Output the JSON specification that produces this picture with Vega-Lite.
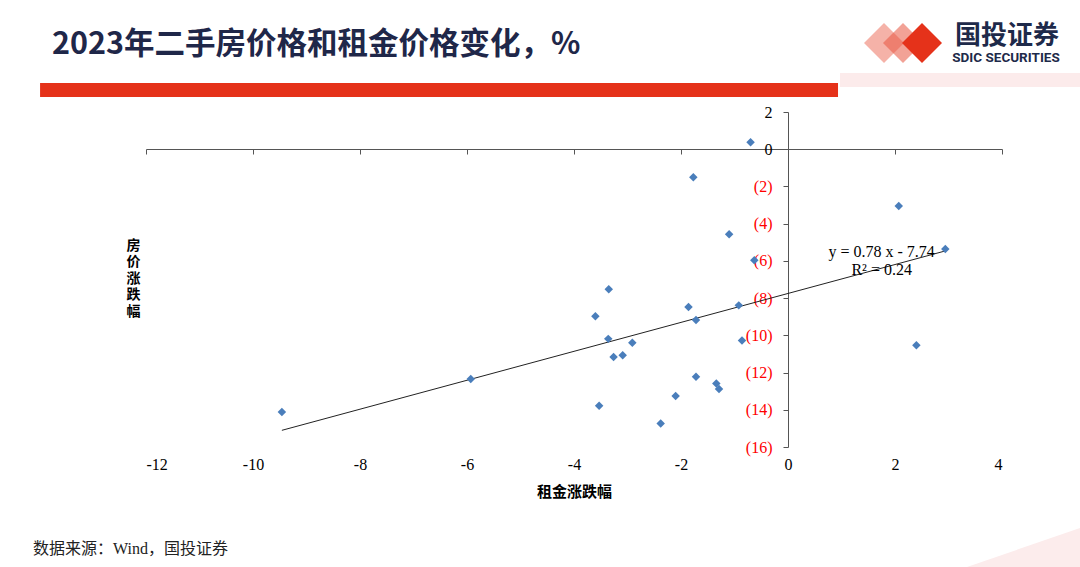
{
  "$schema": "https://vega.github.io/schema/vega-lite/v6.json",
  "width": 856,
  "height": 335,
  "autosize": {"type": "none"},
  "padding": {"left": 146, "top": 112, "right": 78, "bottom": 120},
  "background": "#ffffff",
  "config": {"view": {"stroke": null}},
  "data": {"values": [{}]},
  "datasets": {
    "cities": [
      {"rent": -0.70, "price": 0.38},
      {"rent": -1.77, "price": -1.51},
      {"rent": 2.07, "price": -3.05},
      {"rent": -1.10, "price": -4.57},
      {"rent": 2.94, "price": -5.36},
      {"rent": -0.63, "price": -5.97},
      {"rent": -3.35, "price": -7.53},
      {"rent": -1.86, "price": -8.48},
      {"rent": -0.92, "price": -8.39},
      {"rent": -3.60, "price": -8.97},
      {"rent": -1.72, "price": -9.18},
      {"rent": -3.36, "price": -10.19},
      {"rent": -2.91, "price": -10.40},
      {"rent": -0.86, "price": -10.28},
      {"rent": 2.40, "price": -10.53},
      {"rent": -3.26, "price": -11.17},
      {"rent": -3.09, "price": -11.07},
      {"rent": -1.72, "price": -12.23},
      {"rent": -1.34, "price": -12.59},
      {"rent": -1.29, "price": -12.88},
      {"rent": -2.10, "price": -13.26},
      {"rent": -3.53, "price": -13.78},
      {"rent": -2.38, "price": -14.74},
      {"rent": -9.46, "price": -14.12},
      {"rent": -5.93, "price": -12.34}
    ]
  },
  "resolve": {"axis": {"x": "independent", "y": "independent"}},
  "layer": [
    {
      "mark": {"type": "point", "shape": "M -1 1 L 1 0.31 L 1 1 Z", "filled": true, "size": 12769, "color": "#fcecec", "opacity": 1},
      "encoding": {
        "x": {"datum": 4.402, "type": "quantitative", "axis": null, "scale": {"domain": [-12, 4], "nice": false, "zero": false}},
        "y": {"datum": -19.412, "type": "quantitative", "axis": null, "scale": {"domain": [-16, 2], "nice": false, "zero": false}}
      }
    },
    {
      "mark": {"type": "rule", "color": "#e5321a", "strokeWidth": 14},
      "encoding": {
        "x": {"datum": -13.98, "type": "quantitative", "axis": null},
        "x2": {"datum": 0.935},
        "y": {"datum": 3.18, "type": "quantitative", "axis": null}
      }
    },
    {
      "mark": {"type": "rule", "color": "#fcebeb", "strokeWidth": 14},
      "encoding": {
        "x": {"datum": 0.972, "type": "quantitative", "axis": null},
        "x2": {"datum": 5.6},
        "y": {"datum": 3.72, "type": "quantitative", "axis": null}
      }
    },
    {
      "mark": {"type": "text", "text": "2023年二手房价格和租金价格变化，%", "align": "left", "baseline": "middle", "font": "Noto Sans CJK SC", "fontSize": 30.5, "fontWeight": "bold", "color": "#1f2749"},
      "encoding": {
        "x": {"datum": -13.757, "type": "quantitative", "axis": null},
        "y": {"datum": 5.6, "type": "quantitative", "axis": null}
      }
    },
    {
      "mark": {"type": "point", "shape": "diamond", "filled": true, "size": 1600, "color": "#e8553f", "opacity": 0.45},
      "encoding": {
        "x": {"datum": 1.794, "type": "quantitative", "axis": null},
        "y": {"datum": 5.707, "type": "quantitative", "axis": null}
      }
    },
    {
      "mark": {"type": "point", "shape": "diamond", "filled": true, "size": 1600, "color": "#e8553f", "opacity": 0.55},
      "encoding": {
        "x": {"datum": 2.15, "type": "quantitative", "axis": null},
        "y": {"datum": 5.707, "type": "quantitative", "axis": null}
      }
    },
    {
      "mark": {"type": "point", "shape": "diamond", "filled": true, "size": 1600, "color": "#e5321a", "opacity": 1},
      "encoding": {
        "x": {"datum": 2.505, "type": "quantitative", "axis": null},
        "y": {"datum": 5.707, "type": "quantitative", "axis": null}
      }
    },
    {
      "mark": {"type": "text", "text": "国投证券", "align": "center", "baseline": "middle", "font": "Noto Sans CJK SC", "fontSize": 26, "fontWeight": "bold", "color": "#1e2a4a"},
      "encoding": {
        "x": {"datum": 4.093, "type": "quantitative", "axis": null},
        "y": {"datum": 6.06, "type": "quantitative", "axis": null}
      }
    },
    {
      "mark": {"type": "text", "text": "SDIC SECURITIES", "align": "center", "baseline": "middle", "font": "Roboto", "fontSize": 13.5, "fontWeight": "bold", "color": "#1e2a4a"},
      "encoding": {
        "x": {"datum": 4.075, "type": "quantitative", "axis": null},
        "y": {"datum": 4.9, "type": "quantitative", "axis": null}
      }
    },
    {
      "mark": {"type": "text", "text": "数据来源：Wind，国投证券", "align": "left", "baseline": "middle", "font": "Liberation Serif, Noto Sans CJK SC", "fontSize": 16, "color": "#222222"},
      "encoding": {
        "x": {"datum": -14.112, "type": "quantitative", "axis": null},
        "y": {"datum": -21.454, "type": "quantitative", "axis": null}
      }
    },
    {
      "data": {"name": "cities"},
      "transform": [{"regression": "price", "on": "rent"}],
      "mark": {"type": "line", "color": "#222222", "strokeWidth": 1},
      "encoding": {
        "x": {
          "field": "rent", "type": "quantitative",
          "scale": {"domain": [-12, 4], "nice": false, "zero": false},
          "axis": {"orient": "bottom", "offset": -298, "values": [-12, -10, -8, -6, -4, -2, 0, 2, 4], "labels": false, "ticks": true, "tickSize": 5, "tickColor": "#555555", "domain": true, "domainColor": "#555555", "grid": false, "title": null}
        },
        "y": {
          "field": "price", "type": "quantitative",
          "scale": {"domain": [-16, 2], "nice": false, "zero": false},
          "axis": {
            "orient": "left", "offset": -642,
            "values": [-16, -14, -12, -10, -8, -6, -4, -2, 0, 2],
            "labelExpr": "datum.value < 0 ? '(' + format(-datum.value, 'd') + ')' : format(datum.value, 'd')",
            "labelColor": {"condition": {"test": "datum.value < 0", "value": "#ff0000"}, "value": "#000000"},
            "labelFont": "Liberation Serif", "labelFontSize": 16, "labelPadding": 11,
            "tickSize": 5, "tickColor": "#555555", "domainColor": "#555555", "grid": false,
            "title": ["房", "价", "涨", "跌", "幅"],
            "titleAngle": 0, "titleX": -655, "titleY": 133, "titleAlign": "center", "titleBaseline": "middle",
            "titleFont": "Noto Sans CJK SC", "titleFontSize": 14, "titleFontWeight": "bold", "titleColor": "#000000", "titleLineHeight": 16.5
          }
        }
      }
    },
    {
      "data": {"name": "cities"},
      "mark": {"type": "point", "shape": "diamond", "filled": true, "size": 72, "color": "#4a7ebb", "opacity": 1},
      "encoding": {
        "x": {
          "field": "rent", "type": "quantitative",
          "scale": {"domain": [-12, 4], "nice": false, "zero": false},
          "axis": {"orient": "bottom", "values": [-12, -10, -8, -6, -4, -2, 0, 2, 4], "labelExpr": "(datum.value < 0 ? '-' : '') + format(abs(datum.value), 'd')", "domain": false, "ticks": false, "grid": false, "labelFont": "Liberation Serif", "labelFontSize": 16, "labelColor": "#000000", "labelPadding": 9, "title": "租金涨跌幅", "titleFont": "Noto Sans CJK SC", "titleFontSize": 15, "titleFontWeight": "bold", "titleColor": "#000000", "titlePadding": 12}
        },
        "y": {
          "field": "price", "type": "quantitative",
          "scale": {"domain": [-16, 2], "nice": false, "zero": false},
          "axis": null
        }
      }
    },
    {
      "mark": {"type": "text", "text": ["y = 0.78 x - 7.74", "R² = 0.24"], "align": "center", "baseline": "middle", "font": "Liberation Serif", "fontSize": 16, "lineHeight": 18, "color": "#000000"},
      "encoding": {
        "x": {"datum": 1.751, "type": "quantitative", "axis": null},
        "y": {"datum": -5.506, "type": "quantitative", "axis": null}
      }
    }
  ]
}
